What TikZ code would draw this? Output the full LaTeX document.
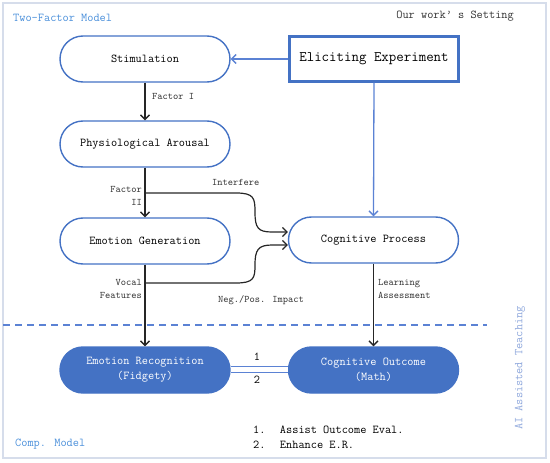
\documentclass[tikz,border=0pt]{standalone}
\usetikzlibrary{arrows.meta,shapes.misc}
\definecolor{nodeblue}{HTML}{4472C4}
\definecolor{lineblue}{HTML}{5B82D4}
\definecolor{titleblue}{HTML}{4A8FDA}
\definecolor{sideblue}{HTML}{8FA8DC}
\definecolor{framec}{HTML}{D6DDEB}
\definecolor{labelgray}{HTML}{333333}
\begin{document}
\begin{tikzpicture}[x=1pt,y=-1pt,
  every node/.style={font=\ttfamily\fontsize{12}{14}\selectfont},
  proc/.style={rounded rectangle, draw=nodeblue, line width=1.4pt, minimum width=170pt, minimum height=46pt, inner sep=0pt},
  outc/.style={rounded rectangle, draw=nodeblue, fill=nodeblue, text=white, line width=1.4pt, minimum width=170pt, minimum height=46pt, inner sep=0pt, align=center, font=\ttfamily\fontsize{12}{15}\selectfont},
  setbox/.style={rectangle, draw=nodeblue, line width=2.4pt, minimum width=169pt, minimum height=45pt, inner sep=0pt, font=\ttfamily\fontsize{14.5}{16}\selectfont},
  lbl/.style={text=labelgray, font=\ttfamily\fontsize{10}{12.5}\selectfont, inner sep=0pt},
  blk/.style={draw=black!85, line width=1.4pt, -{Straight Barb[length=4.5pt,width=9pt]}},
  blu/.style={draw=lineblue, line width=1.3pt, -{Straight Barb[length=4.5pt,width=9pt]}},
  curv/.style={draw=black!85, line width=1.2pt, -{Straight Barb[length=4.5pt,width=9pt]}}
]
\useasboundingbox (0,0) rectangle (550,463);
\draw[framec, line width=2pt] (3,3) rectangle (546,458);

\node[text=titleblue, anchor=west, inner sep=0pt] (t1) at (13,18) {Two-Factor Model};
\node[text=labelgray, anchor=east, inner sep=0pt] (t2) at (514,16) {Our work’ s Setting};

\node[proc] (stim) at (145,59) {Stimulation};
\node[setbox] (elic) at (374,59) {Eliciting Experiment};
\node[proc] (pa) at (145,144) {Physiological Arousal};
\node[proc] (eg) at (145,241) {Emotion Generation};
\node[proc] (cp) at (373.5,240) {Cognitive Process};
\node[outc] (er) at (145,370) {Emotion Recognition\\(Fidgety)};
\node[outc] (co) at (373.5,370) {Cognitive Outcome\\(Math)};

\draw[blu] (elic.west) -- (stim.east);
\draw[blu] (elic.south) -- (cp.north);

\draw[blk] (stim.south) -- (pa.north);
\node[lbl, anchor=west] (f1) at (152,96) {Factor I};
\draw[blk] (pa.south) -- (eg.north);
\node[lbl, anchor=east, align=right] (f2l) at (142,196) {Factor\\II};
\draw[blk] (eg.south) -- (er.north);
\node[lbl, anchor=east, align=right] (vfl) at (142,289) {Vocal\\Features};
\draw[blk] (cp.south) -- (co.north);
\node[lbl, anchor=west, align=left] (lal) at (378,289) {Learning\\Assessment};

\coordinate (f2) at (145,193);
\coordinate (vf) at (145,283);
\draw[curv] (f2) -- (236,193) .. controls (254,193) and (255,198) .. (255,212)
  .. controls (255,228) and (258,232) .. (272,232) -- ([yshift=8pt]cp.west);
\draw[curv] (vf) -- (236,283) .. controls (254,283) and (255,278) .. (255,265)
  .. controls (255,250) and (258,245) .. (272,245) -- ([yshift=-5pt]cp.west);
\node[lbl, anchor=west] (intf) at (212,182) {Interfere};
\node[lbl, anchor=west] (npi) at (218,300) {Neg./Pos. Impact};

\draw[lineblue, line width=1.6pt, dash pattern=on 7pt off 5pt] (3,325) -- (487,325);

\draw[draw=lineblue, line width=1.4pt, double=white, double distance=4.5pt] ([yshift=0.5pt]er.east) -- ([yshift=0.5pt]co.west);
\node[inner sep=0pt] (n1) at (257,357) {1};
\node[inner sep=0pt] (n2) at (257,380) {2};

\node[anchor=west, inner sep=0pt, align=left] (lst) at (253,437.5) {1.\hspace{1.2em}Assist Outcome Eval.\\[1pt]2.\hspace{1.2em}Enhance E.R.};
\node[text=titleblue, anchor=west, inner sep=0pt] (cm) at (15,444) {Comp. Model};
\node[text=sideblue, rotate=90, inner sep=0pt] (ai) at (520,368) {AI Assisted Teaching};
\end{tikzpicture}
\end{document}
